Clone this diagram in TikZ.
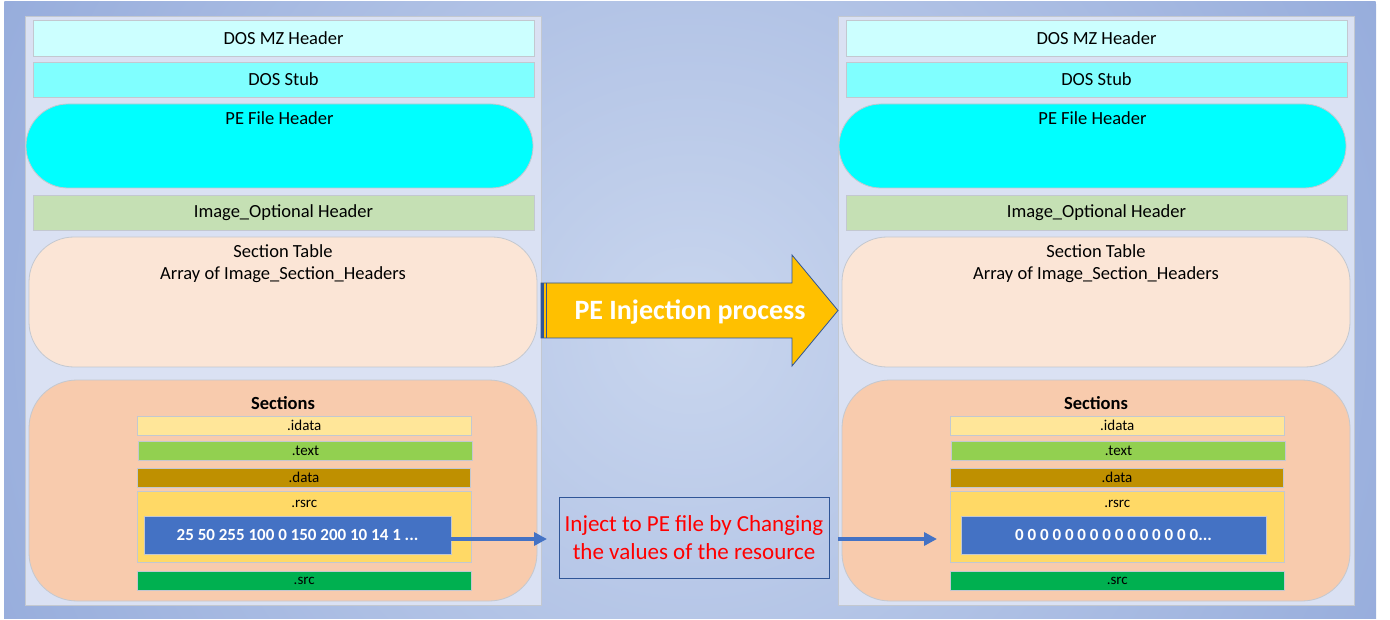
\documentclass[tikz,border=0pt]{standalone}
\usepackage{fontspec}
\setmainfont{Carlito}
\usetikzlibrary{arrows.meta}

\definecolor{bgin}{HTML}{C9D6EE}
\definecolor{bgout}{HTML}{97ADDC}
\definecolor{panelfill}{HTML}{DAE1F3}
\definecolor{edgegray}{HTML}{C3C8D0}
\definecolor{dosmz}{HTML}{CCFFFF}
\definecolor{stub}{HTML}{80FFFF}
\definecolor{pehdr}{HTML}{00FFFF}
\definecolor{opthdr}{HTML}{C5E0B4}
\definecolor{sectab}{HTML}{FBE5D6}
\definecolor{sectbg}{HTML}{F8CBAD}
\definecolor{idata}{HTML}{FFE699}
\definecolor{textsec}{HTML}{92D050}
\definecolor{datasec}{HTML}{BF9000}
\definecolor{rsrcsec}{HTML}{FFD966}
\definecolor{blobblue}{HTML}{4472C4}
\definecolor{srcsec}{HTML}{00B050}
\definecolor{procfill}{HTML}{FFC000}
\definecolor{darkblue}{HTML}{2F5597}
\definecolor{injred}{HTML}{FF0000}

\begin{document}
\begin{tikzpicture}[x=1pt,y=-1pt,
  every node/.style={inner sep=0pt, outer sep=0pt},
  panel/.style={fill=panelfill, draw=edgegray, line width=0.8pt},
  hdrbox/.style={draw=edgegray, line width=0.8pt, font=\fontsize{18.5}{22}\selectfont},
  secbox/.style={draw=edgegray, line width=0.8pt, minimum width=333.5pt, minimum height=19pt,
                 font=\fontsize{15}{18}\selectfont},
  blob/.style={fill=blobblue, draw=edgegray, line width=0.6pt, text=white,
               font=\bfseries\fontsize{17}{20}\selectfont},
  toplab/.style={anchor=center, text height=11.9pt, text depth=0pt, font=\fontsize{18.5}{22}\selectfont},
  conn/.style={draw=blobblue, line width=3.5pt, -{Triangle[length=13pt,width=13pt]}},
]
\useasboundingbox (0,0) rectangle (1390,620);

% backdrop with a soft radial gradient
\begin{scope}
  \clip (4,2) rectangle (1376,618);
  \shade[inner color=bgin, outer color=bgout] (690,330) circle [radius=760pt];
\end{scope}

% ---------- PE layout, before ----------
\node[panel, minimum width=516pt, minimum height=589pt] (lpanel) at (283,310.5) {};
\node[hdrbox, fill=dosmz, minimum width=501pt, minimum height=36pt] (ldosmz) at (283.5,38) {DOS MZ Header};
\node[hdrbox, fill=stub, minimum width=501pt, minimum height=35pt] (lstub) at (283.5,79.5) {DOS Stub};
\node[hdrbox, fill=pehdr, minimum width=507pt, minimum height=84pt, rounded corners=42pt,
      label={[toplab, yshift=-14.5pt]north:PE File Header}] (lpe) at (279.5,146) {};
\node[hdrbox, fill=opthdr, minimum width=501pt, minimum height=35pt] (lopt) at (283.5,212.5) {Image\_Optional Header};
\node[hdrbox, fill=sectab, minimum width=508pt, minimum height=130pt, rounded corners=45pt,
      label={[toplab, yshift=-15pt]north:Section Table},
      label={[toplab, yshift=-37pt]north:Array of Image\_Section\_Headers}] (lsectab) at (283,302) {};
\node[hdrbox, fill=sectbg, minimum width=508pt, minimum height=221pt, rounded corners=48pt,
      label={[toplab, yshift=-24pt, font=\bfseries\fontsize{18.5}{22}\selectfont]north:Sections}] (lsections) at (283,490.5) {};
\node[secbox, fill=idata] (lidata) at (304.25,425.5) {.idata};
\node[secbox, fill=textsec] (ltext) at (305.5,450.5) {.text};
\node[secbox, fill=datasec] (ldata) at (304,477.5) {.data};
\node[secbox, fill=rsrcsec, minimum height=71pt,
      label={[anchor=center, yshift=-12.5pt, font=\fontsize{15}{18}\selectfont]north:.rsrc}] (lrsrc) at (304.25,526.5) {};
\node[blob, minimum width=307pt, minimum height=38pt] (lblob) at (297.5,535) {25 50 255 100 0 150 200 10 14 1 ...};
\node[secbox, fill=srcsec] (lsrc) at (304.25,580.5) {.src};

% ---------- PE layout, after ----------
\node[panel, minimum width=516pt, minimum height=589pt] (rpanel) at (1096,310.5) {};
\node[hdrbox, fill=dosmz, minimum width=501pt, minimum height=36pt] (rdosmz) at (1096.5,38) {DOS MZ Header};
\node[hdrbox, fill=stub, minimum width=501pt, minimum height=35pt] (rstub) at (1096.5,79.5) {DOS Stub};
\node[hdrbox, fill=pehdr, minimum width=507pt, minimum height=84pt, rounded corners=42pt,
      label={[toplab, yshift=-14.5pt]north:PE File Header}] (rpe) at (1092.5,146) {};
\node[hdrbox, fill=opthdr, minimum width=501pt, minimum height=35pt] (ropt) at (1096.5,212.5) {Image\_Optional Header};
\node[hdrbox, fill=sectab, minimum width=508pt, minimum height=130pt, rounded corners=45pt,
      label={[toplab, yshift=-15pt]north:Section Table},
      label={[toplab, yshift=-37pt]north:Array of Image\_Section\_Headers}] (rsectab) at (1096,302) {};
\node[hdrbox, fill=sectbg, minimum width=508pt, minimum height=221pt, rounded corners=48pt,
      label={[toplab, yshift=-24pt, font=\bfseries\fontsize{18.5}{22}\selectfont]north:Sections}] (rsections) at (1096,490.5) {};
\node[secbox, fill=idata] (ridata) at (1117.25,425.5) {.idata};
\node[secbox, fill=textsec] (rtext) at (1118.5,450.5) {.text};
\node[secbox, fill=datasec] (rdata) at (1117,477.5) {.data};
\node[secbox, fill=rsrcsec, minimum height=71pt,
      label={[anchor=center, yshift=-12.5pt, font=\fontsize{15}{18}\selectfont]north:.rsrc}] (rrsrc) at (1117.25,526.5) {};
\node[blob, minimum width=305pt, minimum height=38pt] (rblob) at (1113.5,535) {0 0 0 0 0 0 0 0 0 0 0 0 0 0 0...};
\node[secbox, fill=srcsec] (rsrc) at (1117.25,580.5) {.src};

% ---------- big process arrow ----------
\path[fill=procfill, draw=darkblue, line width=0.8pt]
  (541,283) -- (792,283) -- (792,255) -- (838,310.5) -- (792,366) -- (792,338) -- (541,338) -- cycle;
\fill[darkblue] (541,283) rectangle (544.2,338);
\draw[darkblue, line width=0.9pt] (546,283) -- (546,338);
\node[text=white, text height=18pt, text depth=0pt, font=\bfseries\fontsize{28}{32}\selectfont] (proc) at (690,311) {PE Injection process};

% ---------- injection step ----------
\node[draw=darkblue, line width=1pt, minimum width=270pt, minimum height=81pt,
      text=injred, align=center, font=\fontsize{23}{28}\selectfont] (inject) at (694,537.5)
      {Inject to PE file by Changing\\the values of the resource};

\coordinate (la) at ([yshift=-4pt]lblob.east);
\draw[conn, shorten >=12pt] (la) -- (la -| inject.west);
\coordinate (ra) at ([yshift=-1.5pt]inject.east);
\draw[conn, shorten <=9pt, shorten >=24pt] (ra) -- (ra -| rblob.west);
\end{tikzpicture}
\end{document}
